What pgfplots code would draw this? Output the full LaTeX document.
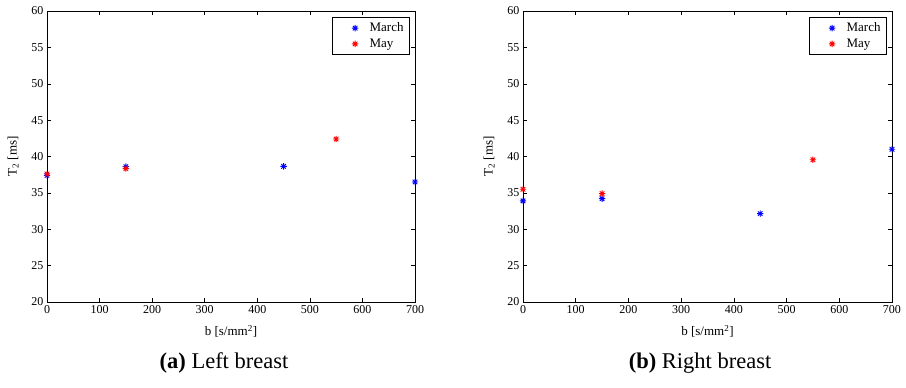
\documentclass[border=0pt]{standalone}
\usepackage{pgfplots}
\pgfplotsset{compat=1.18}
\usepackage{fontspec}
\setmainfont{Liberation Serif}
\pgfdeclareplotmark{mast}{%
 \pgfpathmoveto{\pgfqpoint{-\pgfplotmarksize}{0pt}}\pgfpathlineto{\pgfqpoint{\pgfplotmarksize}{0pt}}%
 \pgfpathmoveto{\pgfqpoint{0pt}{-\pgfplotmarksize}}\pgfpathlineto{\pgfqpoint{0pt}{\pgfplotmarksize}}%
 \pgfpathmoveto{\pgfqpoint{-.7071\pgfplotmarksize}{-.7071\pgfplotmarksize}}\pgfpathlineto{\pgfqpoint{.7071\pgfplotmarksize}{.7071\pgfplotmarksize}}%
 \pgfpathmoveto{\pgfqpoint{-.7071\pgfplotmarksize}{.7071\pgfplotmarksize}}\pgfpathlineto{\pgfqpoint{.7071\pgfplotmarksize}{-.7071\pgfplotmarksize}}%
 \pgfusepathqstroke}
\begin{document}
\begin{tikzpicture}[x=1pt,y=1pt]
\useasboundingbox (0,0) rectangle (906,-388);
\pgfplotsset{
  every axis/.style={
    scale only axis, height=291pt,
    xmin=0, xmax=700, ymin=20, ymax=60,
    xtick={0,100,...,700}, ytick={20,25,...,60},
    tick align=inside, tick pos=both,
    major tick length=4pt,
    axis line style={line width=0.9pt},
    tick style={black, line width=0.5pt},
    /pgf/number format/assume math mode=true,
    tick label style={font=\fontsize{12}{14}\selectfont},
    label style={font=\fontsize{13}{15}\selectfont},
    xlabel={b [s/mm\textsuperscript{2}]},
    ylabel={T\textsubscript{2} [ms]},
    xlabel style={at={(axis description cs:0.5,-0.1)}, anchor=center},
    ylabel style={at={(axis description cs:-0.092,0.5)}, anchor=center},
    legend style={at={(axis description cs:0.986,0.979)}, anchor=north east, font=\fontsize{13}{15}\selectfont,
      draw=black, line width=0.6pt, row sep=1.5pt, inner xsep=4pt, inner ysep=3.5pt},
    legend cell align=left,
    legend image code/.code={\path (0pt,0pt) (30pt,0pt); \draw[##1] plot coordinates {(18pt,0pt)};},
  }
}
\begin{axis}[at={(47pt,-302pt)}, anchor=south west, width=368pt, name=L]
\addplot[only marks, mark=mast, mark size=3.2pt, blue, line width=0.9pt] coordinates {(0,37.4) (150,38.6) (450,38.65) (700,36.5)};
\addlegendentry{March}
\addplot[only marks, mark=mast, mark size=3.2pt, red, line width=0.9pt] coordinates {(0,37.6) (150,38.35) (550,42.4)};
\addlegendentry{May}
\end{axis}
\begin{axis}[at={(523pt,-302pt)}, anchor=south west, width=369pt, name=R]
\addplot[only marks, mark=mast, mark size=3.2pt, blue, line width=0.9pt] coordinates {(0,33.9) (150,34.2) (450,32.15) (700,41.0)};
\addlegendentry{March}
\addplot[only marks, mark=mast, mark size=3.2pt, red, line width=0.9pt] coordinates {(0,35.5) (150,34.9) (550,39.55)};
\addlegendentry{May}
\end{axis}
\node[font=\fontsize{22.5}{26}\selectfont] at (224,-363) {\textbf{(a)} Left breast};
\node[font=\fontsize{22.5}{26}\selectfont] at (700,-363) {\textbf{(b)} Right breast};
\end{tikzpicture}
\end{document}
